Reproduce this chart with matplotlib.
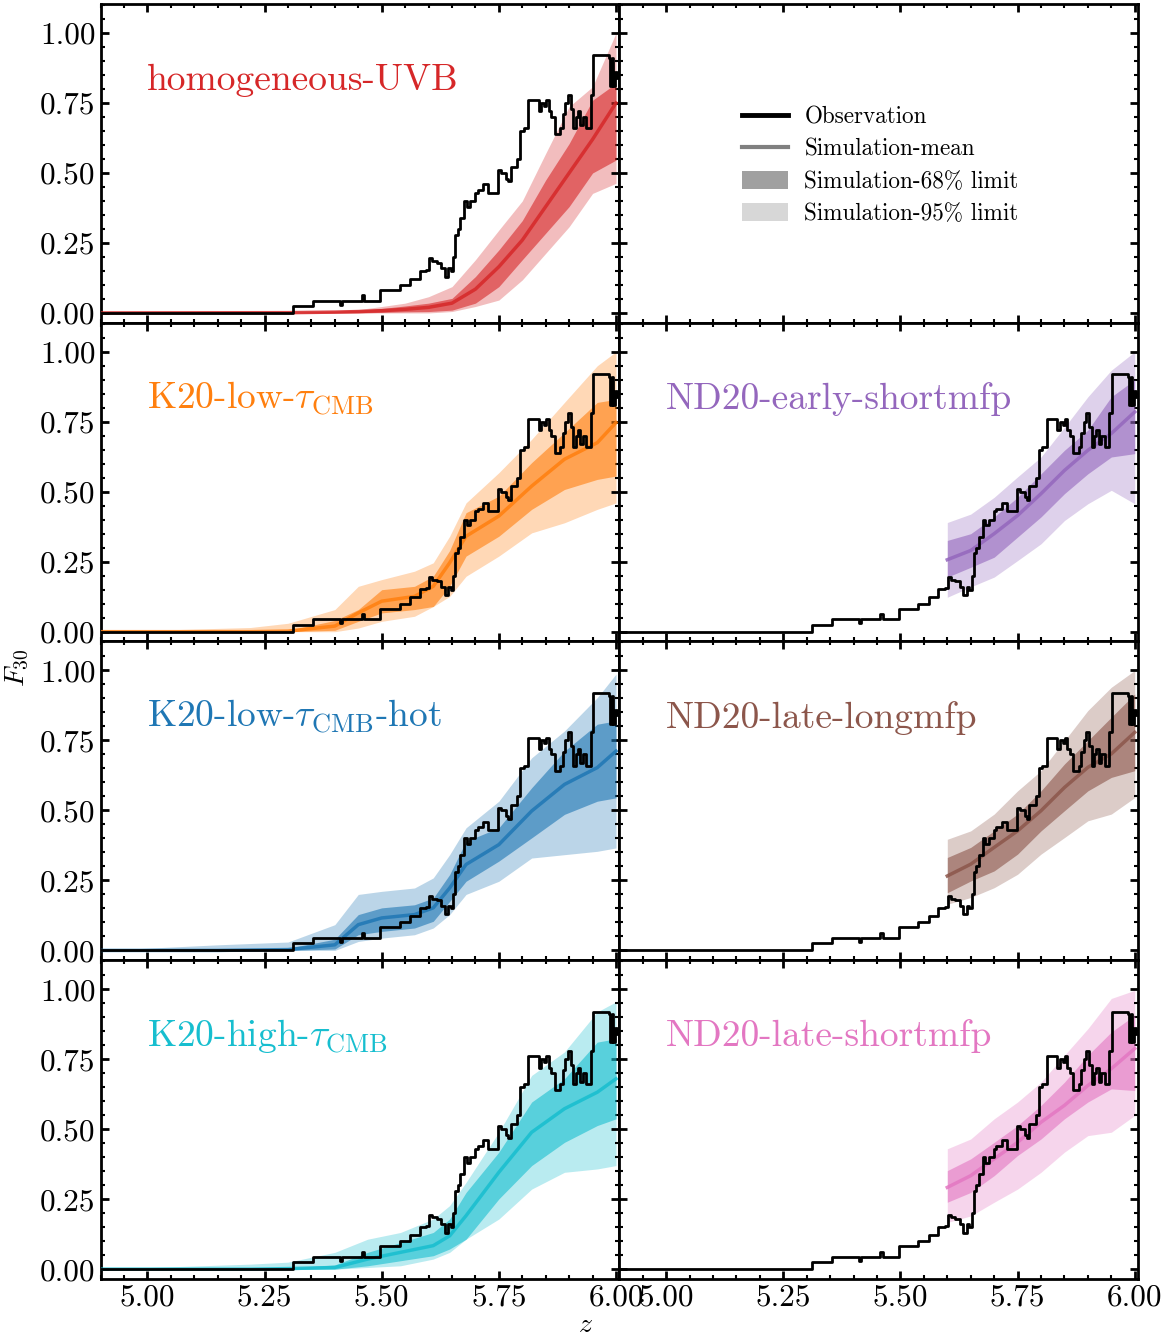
import numpy as np
import matplotlib
matplotlib.use("Agg")
import matplotlib.pyplot as plt
from matplotlib.ticker import MultipleLocator, FormatStrFormatter
from matplotlib.lines import Line2D
from matplotlib.patches import Patch

plt.rcParams['font.family'] = 'serif'
plt.rcParams['font.serif'] = ['cmr10', 'DejaVu Serif']
plt.rcParams['mathtext.fontset'] = 'cm'
plt.rcParams['axes.unicode_minus'] = False

# observed F30 (step curve)
obs_z = [4.90, 5.311, 5.354, 5.412, 5.416, 5.457, 5.463, 5.496, 5.538, 5.560,
         5.581, 5.595, 5.601, 5.607, 5.617, 5.627, 5.634, 5.641, 5.647, 5.652,
         5.656, 5.662, 5.668, 5.676, 5.681, 5.688, 5.699, 5.705, 5.716, 5.727,
         5.748, 5.755, 5.765, 5.770, 5.775, 5.783, 5.789, 5.795, 5.803, 5.813,
         5.830, 5.835, 5.841, 5.846, 5.851, 5.856, 5.861, 5.869, 5.880, 5.886,
         5.892, 5.897, 5.903, 5.909, 5.914, 5.918, 5.924, 5.929, 5.936, 5.946,
         5.951, 5.985, 5.988, 5.991, 5.994, 5.998, 6.003]
obs_f = [0.0, 0.025, 0.044, 0.030, 0.044, 0.063, 0.044, 0.082, 0.100, 0.123,
         0.151, 0.155, 0.195, 0.185, 0.180, 0.160, 0.130, 0.160, 0.150, 0.200,
         0.280, 0.300, 0.340, 0.400, 0.380, 0.400, 0.430, 0.440, 0.460, 0.430,
         0.510, 0.500, 0.480, 0.470, 0.520, 0.520, 0.550, 0.650, 0.660, 0.760,
         0.760, 0.720, 0.750, 0.740, 0.760, 0.720, 0.700, 0.640, 0.660, 0.710,
         0.750, 0.780, 0.730, 0.660, 0.700, 0.720, 0.670, 0.700, 0.660, 0.780,
         0.920, 0.910, 0.810, 0.910, 0.810, 0.860, 0.840]

# homogeneous-UVB
hom_z = [4.90, 5.30, 5.40, 5.45, 5.50, 5.55, 5.60, 5.65, 5.70, 5.75, 5.80, 5.85, 5.90, 5.95, 6.00]
hom_mean = [0, 0.001, 0.003, 0.005, 0.008, 0.013, 0.02, 0.035, 0.085, 0.165, 0.26, 0.38, 0.50, 0.62, 0.75]
hom_lo68 = [0, 0, 0, 0, 0.002, 0.004, 0.005, 0.01, 0.035, 0.094, 0.19, 0.285, 0.38, 0.50, 0.546]
hom_hi68 = [0, 0.002, 0.006, 0.01, 0.016, 0.025, 0.035, 0.052, 0.13, 0.225, 0.33, 0.475, 0.605, 0.76, 0.82]
hom_lo95 = [0, 0, 0, 0, 0, 0, 0, 0.005, 0.023, 0.046, 0.118, 0.213, 0.308, 0.427, 0.463]
hom_hi95 = [0, 0.004, 0.008, 0.012, 0.023, 0.035, 0.058, 0.094, 0.19, 0.296, 0.40, 0.57, 0.737, 0.808, 1.0]

# K20-low-tauCMB
klo_z = [4.90, 5.22, 5.30, 5.40, 5.45, 5.50, 5.57, 5.61, 5.645, 5.68, 5.75, 5.82, 5.89, 5.96, 6.00]
klo_mean = [0, 0, 0.002, 0.02, 0.067, 0.109, 0.126, 0.162, 0.246, 0.341, 0.413, 0.52, 0.616, 0.675, 0.747]
klo_lo68 = [0, 0, 0, 0.005, 0.037, 0.067, 0.079, 0.09, 0.162, 0.27, 0.341, 0.437, 0.508, 0.544, 0.556]
klo_hi68 = [0, 0, 0.005, 0.04, 0.079, 0.15, 0.162, 0.198, 0.29, 0.425, 0.484, 0.604, 0.711, 0.819, 0.83]
klo_lo95 = [0, 0, 0, 0, 0.013, 0.037, 0.055, 0.09, 0.126, 0.198, 0.27, 0.353, 0.389, 0.437, 0.46]
klo_hi95 = [0, 0.015, 0.03, 0.079, 0.162, 0.186, 0.216, 0.246, 0.341, 0.46, 0.568, 0.687, 0.819, 0.95, 1.0]

# K20-low-tauCMB-hot
khot_z = [4.90, 5.15, 5.30, 5.40, 5.45, 5.50, 5.57, 5.61, 5.645, 5.68, 5.75, 5.82, 5.89, 5.96, 6.00]
khot_mean = [0, 0, 0.003, 0.02, 0.092, 0.116, 0.128, 0.152, 0.223, 0.307, 0.378, 0.498, 0.593, 0.653, 0.712]
khot_lo68 = [0, 0, 0, 0.005, 0.056, 0.068, 0.08, 0.104, 0.175, 0.247, 0.319, 0.402, 0.486, 0.533, 0.545]
khot_hi68 = [0, 0, 0.008, 0.04, 0.128, 0.152, 0.163, 0.187, 0.271, 0.39, 0.438, 0.581, 0.712, 0.808, 0.82]
khot_lo95 = [0, 0, 0, 0, 0.032, 0.044, 0.056, 0.08, 0.128, 0.20, 0.247, 0.33, 0.342, 0.354, 0.366]
khot_hi95 = [0, 0.02, 0.03, 0.092, 0.20, 0.211, 0.223, 0.259, 0.342, 0.438, 0.533, 0.688, 0.784, 0.903, 0.987]

# K20-high-tauCMB
khi_z = [4.90, 5.22, 5.30, 5.40, 5.47, 5.54, 5.61, 5.645, 5.68, 5.75, 5.82, 5.89, 5.96, 6.00]
khi_mean = [0, 0, 0.002, 0.006, 0.036, 0.06, 0.084, 0.119, 0.191, 0.346, 0.489, 0.573, 0.632, 0.68]
khi_lo68 = [0, 0, 0, 0, 0.012, 0.03, 0.048, 0.072, 0.107, 0.251, 0.37, 0.453, 0.513, 0.537]
khi_hi68 = [0, 0, 0.005, 0.015, 0.06, 0.095, 0.131, 0.179, 0.274, 0.418, 0.597, 0.68, 0.811, 0.823]
khi_lo95 = [0, 0, 0, 0, 0.006, 0.012, 0.036, 0.06, 0.107, 0.179, 0.286, 0.346, 0.358, 0.37]
khi_hi95 = [0, 0.018, 0.025, 0.06, 0.107, 0.131, 0.179, 0.227, 0.31, 0.489, 0.692, 0.776, 0.919, 0.955]

# ND20 models
nd_z = [5.60, 5.65, 5.70, 5.75, 5.80, 5.85, 5.90, 5.95, 6.00]
nes_mean = [0.257, 0.29, 0.35, 0.415, 0.493, 0.576, 0.648, 0.708, 0.785]
nes_lo68 = [0.195, 0.23, 0.266, 0.338, 0.41, 0.493, 0.564, 0.624, 0.636]
nes_hi68 = [0.326, 0.35, 0.41, 0.48, 0.564, 0.648, 0.72, 0.839, 0.90]
nes_lo95 = [0.123, 0.16, 0.195, 0.254, 0.314, 0.397, 0.457, 0.505, 0.457]
nes_hi95 = [0.39, 0.42, 0.48, 0.553, 0.624, 0.73, 0.839, 0.934, 1.0]

nll_mean = [0.266, 0.308, 0.368, 0.427, 0.499, 0.582, 0.654, 0.702, 0.779]
nll_lo68 = [0.206, 0.248, 0.284, 0.344, 0.427, 0.499, 0.57, 0.618, 0.642]
nll_hi68 = [0.332, 0.368, 0.427, 0.487, 0.57, 0.666, 0.749, 0.833, 0.916]
nll_lo95 = [0.165, 0.189, 0.224, 0.272, 0.344, 0.403, 0.463, 0.487, 0.546]
nll_hi95 = [0.397, 0.427, 0.487, 0.57, 0.642, 0.749, 0.857, 0.94, 1.0]

nls_mean = [0.292, 0.334, 0.394, 0.453, 0.525, 0.585, 0.656, 0.716, 0.788]
nls_lo68 = [0.239, 0.274, 0.334, 0.406, 0.465, 0.537, 0.597, 0.644, 0.638]
nls_hi68 = [0.352, 0.394, 0.453, 0.513, 0.585, 0.668, 0.764, 0.847, 0.907]
nls_lo95 = [0.167, 0.19, 0.239, 0.286, 0.346, 0.418, 0.477, 0.489, 0.549]
nls_hi95 = [0.43, 0.465, 0.537, 0.597, 0.668, 0.764, 0.859, 0.967, 0.996]

models = [
    # (row, col, label, color, z, mean, lo68, hi68, lo95, hi95)
    (0, 0, 'homogeneous-UVB', '#d62728', hom_z, hom_mean, hom_lo68, hom_hi68, hom_lo95, hom_hi95),
    (1, 0, r'K20-low-$\tau_{\rm CMB}$', '#ff7f0e', klo_z, klo_mean, klo_lo68, klo_hi68, klo_lo95, klo_hi95),
    (2, 0, r'K20-low-$\tau_{\rm CMB}$-hot', '#1f77b4', khot_z, khot_mean, khot_lo68, khot_hi68, khot_lo95, khot_hi95),
    (3, 0, r'K20-high-$\tau_{\rm CMB}$', '#17becf', khi_z, khi_mean, khi_lo68, khi_hi68, khi_lo95, khi_hi95),
    (1, 1, 'ND20-early-shortmfp', '#9467bd', nd_z, nes_mean, nes_lo68, nes_hi68, nes_lo95, nes_hi95),
    (2, 1, 'ND20-late-longmfp', '#8c564b', nd_z, nll_mean, nll_lo68, nll_hi68, nll_lo95, nll_hi95),
    (3, 1, 'ND20-late-shortmfp', '#e377c2', nd_z, nls_mean, nls_lo68, nls_hi68, nls_lo95, nls_hi95),
]

fig, axes = plt.subplots(4, 2, figsize=(11.72, 13.36), dpi=100, sharex=True, sharey=True)
fig.subplots_adjust(left=0.0858, right=0.971, top=0.997, bottom=0.0427, wspace=0, hspace=0)

for ax in axes.flat:
    ax.set_xlim(4.9, 6.007)
    ax.set_ylim(-0.035, 1.1036)
    ax.xaxis.set_major_locator(MultipleLocator(0.25))
    ax.xaxis.set_minor_locator(MultipleLocator(0.05))
    ax.yaxis.set_major_locator(MultipleLocator(0.25))
    ax.yaxis.set_minor_locator(MultipleLocator(0.05))
    ax.xaxis.set_major_formatter(FormatStrFormatter('%.2f'))
    ax.yaxis.set_major_formatter(FormatStrFormatter('%.2f'))
    ax.tick_params(which='both', direction='in', top=True, right=True, labelsize=22.5)
    ax.tick_params(which='major', length=6, width=2)
    ax.tick_params(which='minor', length=3, width=1.5)
    for s in ax.spines.values():
        s.set_linewidth(2)
    if ax is not axes[0, 1]:
        ax.plot(obs_z, obs_f, color='k', lw=2, drawstyle='steps-post', zorder=5)

for row, col, label, c, z, mean, lo68, hi68, lo95, hi95 in models:
    ax = axes[row, col]
    ax.fill_between(z, lo95, hi95, color=c, alpha=0.3, lw=0, zorder=1)
    ax.fill_between(z, lo68, hi68, color=c, alpha=0.6, lw=0, zorder=2)
    ax.plot(z, mean, color=c, lw=2.5, alpha=0.85, zorder=3)
    ax.text(0.09, 0.73, label, color=c, fontsize=27, transform=ax.transAxes, va='baseline')

handles = [Line2D([], [], color='k', lw=3.5),
           Line2D([], [], color='#808080', lw=3),
           Patch(facecolor='#a0a0a0', edgecolor='none'),
           Patch(facecolor='#d7d7d7', edgecolor='none')]
labels = ['Observation', 'Simulation-mean', 'Simulation-68% limit', 'Simulation-95% limit']
axes[0, 1].legend(handles, labels, loc='upper left', bbox_to_anchor=(0.236, 0.68),
                  frameon=False, fontsize=16.7, handlelength=2.0, handleheight=0.85,
                  handletextpad=0.7, labelspacing=0.43, borderpad=0, borderaxespad=0)

fig.text(0.015, 0.5, r'$F_{30}$', rotation=90, va='center', ha='center', fontsize=20)
fig.text(0.5, 0.008, r'$z$', va='center', ha='center', fontsize=20)

fig.savefig('out.png', dpi=100)
